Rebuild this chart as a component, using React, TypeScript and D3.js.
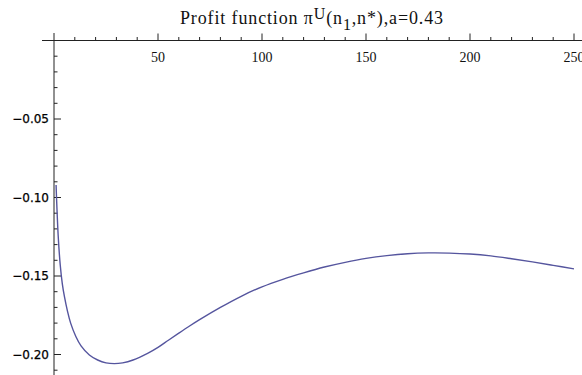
import React from "react";
import * as d3 from "d3";

const nValues = [1, 2, 3, 4, 5, 6.5, 8, 10.5, 13, 17, 21, 25, 29, 33, 38, 45, 50, 55, 60, 65, 70, 80, 90, 100, 110, 120, 130, 140, 150, 160, 170, 180, 190, 200, 210, 220, 230, 240, 250];
const profitValues = [-0.092, -0.124, -0.143, -0.155, -0.163, -0.1725, -0.18, -0.1885, -0.1945, -0.2003, -0.2035, -0.2053, -0.2058, -0.2053, -0.2035, -0.1993, -0.1955, -0.1909, -0.1864, -0.182, -0.1778, -0.17, -0.1629, -0.1569, -0.1521, -0.148, -0.1443, -0.1413, -0.1388, -0.137, -0.1358, -0.1353, -0.1354, -0.136, -0.1372, -0.139, -0.141, -0.1432, -0.1455];
const xMajorTicks = [50, 100, 150, 200, 250];
const yMajorTicks = [-0.05, -0.1, -0.15, -0.2];
const yTickLabels = ["\u22120.05", "\u22120.10", "\u22120.15", "\u22120.20"];

const W = 582;
const H = 375;
const SERIF = "Liberation Serif";

export default function App() {
  const x = d3.scaleLinear().domain([0, 250]).range([54, 574]);
  const y = d3.scaleLinear().domain([0, -0.2]).range([40.5, 354.5]);

  const data = nValues.map((n, i) => ({ n, v: profitValues[i] }));
  const line = d3
    .line<{ n: number; v: number }>()
    .x((d) => x(d.n))
    .y((d) => y(d.v))
    .curve(d3.curveCatmullRom.alpha(0.5));

  const xMinor = d3.range(10, 260, 10).filter((t) => t % 50 !== 0 && x(t) <= W);
  const yMinor = d3.range(1, 22).map((k) => -k / 100).filter((t) => Math.round(t * 100) % 5 !== 0);

  const axisColor = "#222";
  const x0 = x(0);
  const y0 = y(0);

  return (
    <svg width={W} height={H} style={{ position: "absolute", left: 0, top: 0, background: "#fff" }}>
      <rect x={0} y={0} width={W} height={H} fill="#fff" />
      {/* title */}
      <text x={180} y={24} fontFamily={SERIF} fontSize={18} fill="#111" textLength={263} lengthAdjust="spacing">
        Profit function π
        <tspan dy={-5} fontSize={16}>U</tspan>
        <tspan dy={5}>(n</tspan>
        <tspan dy={6} fontSize={16}>1</tspan>
        <tspan dy={-6}>,n*),a=0.43</tspan>
      </text>

      {/* axes */}
      <line x1={42} x2={W} y1={y0} y2={y0} stroke={axisColor} strokeWidth={1} />
      <line x1={x0} x2={x0} y1={33} y2={H} stroke={axisColor} strokeWidth={1} />

      {/* x ticks */}
      {xMajorTicks.map((t) => (
        <g key={"xm" + t}>
          <line x1={x(t)} x2={x(t)} y1={y0} y2={y0 - 7} stroke={axisColor} />
          <text x={x(t)} y={62} textAnchor="middle" fontFamily={SERIF} fontSize={14} fill="#111">
            {t}
          </text>
        </g>
      ))}
      {xMinor.map((t) => (
        <line key={"xn" + t} x1={x(t)} x2={x(t)} y1={y0} y2={y0 - 3.5} stroke={axisColor} />
      ))}

      {/* y ticks */}
      {yMajorTicks.map((t, i) => (
        <g key={"ym" + t}>
          <line x1={x0} x2={x0 + 7} y1={y(t)} y2={y(t)} stroke={axisColor} />
          <text x={49} y={y(t)} dy="0.35em" textAnchor="end" fontFamily="DejaVu Sans" fontSize={12} fill="#000" stroke="#000" strokeWidth={0.25}>
            {yTickLabels[i]}
          </text>
        </g>
      ))}
      {yMinor.map((t) => (
        <line key={"yn" + t} x1={x0} x2={x0 + 3.5} y1={y(t)} y2={y(t)} stroke={axisColor} />
      ))}

      {/* curve */}
      <path d={line(data) || ""} fill="none" stroke="#55559e" strokeWidth={1.4} />
    </svg>
  );
}
